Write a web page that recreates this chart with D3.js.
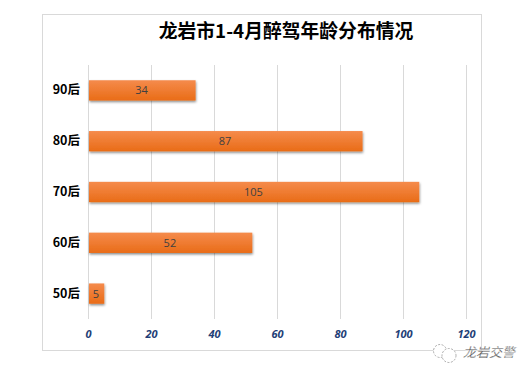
<!DOCTYPE html>
<html>
<head>
<meta charset="utf-8">
<script src="https://cdn.jsdelivr.net/npm/d3@7"></script>
<style>
    html, body { margin: 0; padding: 0; background: #fff; }
    svg { display: block; }
</style>
</head>
<body>
<svg id="chart" width="531" height="378"></svg>
<script>
const categories = ['90后', '80后', '70后', '60后', '50后'];
const values = [34, 87, 105, 52, 5];
const xTicks = [0, 20, 40, 60, 80, 100, 120];

const cjk = '"Noto Sans CJK SC", sans-serif';
const latin = '"Open Sans", "Noto Sans", sans-serif';

const svg = d3.select('#chart');

const defs = svg.append('defs');
const grad = defs.append('linearGradient')
    .attr('id', 'barFill')
    .attr('x1', 0).attr('y1', 0).attr('x2', 0).attr('y2', 1);
grad.append('stop').attr('offset', '0%').attr('stop-color', '#f58b4c');
grad.append('stop').attr('offset', '100%').attr('stop-color', '#e96c17');

const shadow = defs.append('filter')
    .attr('id', 'barShadow')
    .attr('x', '-10%').attr('y', '-20%').attr('width', '130%').attr('height', '160%');
shadow.append('feDropShadow')
    .attr('dx', 0.5).attr('dy', 1.5).attr('stdDeviation', 1.2)
    .attr('flood-color', '#000').attr('flood-opacity', 0.45);

// chart frame
svg.append('rect')
    .attr('x', 42.5).attr('y', 14.5)
    .attr('width', 439).attr('height', 336)
    .attr('fill', '#fff')
    .attr('stroke', '#d9d9d9');

const x = d3.scaleLinear().domain([0, 120]).range([88.5, 466.5]);
const y = d3.scaleBand().domain(categories).range([65, 319]).paddingInner(0.6).paddingOuter(0.3);

// grid lines
svg.append('g').selectAll('line')
    .data(xTicks)
    .join('line')
        .attr('x1', d => x(d)).attr('x2', d => x(d))
        .attr('y1', 65).attr('y2', 319)
        .attr('stroke', '#d9d9d9');

// bars
const bars = svg.append('g');
bars.selectAll('rect')
    .data(values)
    .join('rect')
        .attr('x', x(0) + 0.5)
        .attr('y', (d, i) => y(categories[i]))
        .attr('width', d => x(d) - x(0) - 0.5)
        .attr('height', y.bandwidth())
        .attr('fill', 'url(#barFill)')
        .attr('filter', 'url(#barShadow)');

// value labels
svg.append('g').selectAll('text')
    .data(values)
    .join('text')
        .attr('x', d => x(0) + (x(d) - x(0)) / 2 - 0.5)
        .attr('y', (d, i) => y(categories[i]) + y.bandwidth() / 2 + 4)
        .attr('text-anchor', 'middle')
        .attr('font-family', latin)
        .attr('font-size', 11)
        .attr('fill', '#404040')
        .text(d => d);

// category labels
svg.append('g').selectAll('text')
    .data(categories)
    .join('text')
        .attr('x', 80)
        .attr('y', d => y(d) + y.bandwidth() / 2 + 4)
        .attr('text-anchor', 'end')
        .attr('font-family', cjk)
        .attr('font-size', 12.5)
        .attr('font-weight', 700)
        .attr('fill', '#000')
        .text(d => d);

// x axis labels
svg.append('g').selectAll('text')
    .data(xTicks)
    .join('text')
        .attr('x', d => x(d))
        .attr('y', 338)
        .attr('text-anchor', 'middle')
        .attr('font-family', latin)
        .attr('font-size', 11)
        .attr('font-style', 'italic')
        .attr('font-weight', 700)
        .attr('fill', '#1f3f77')
        .text(d => d);

// title
svg.append('text')
    .attr('x', 286)
    .attr('y', 38)
    .attr('text-anchor', 'middle')
    .attr('font-family', cjk)
    .attr('font-size', 18.8)
    .attr('font-weight', 700)
    .attr('fill', '#000')
    .text('龙岩市1-4月醉驾年龄分布情况');

// watermark
const mark = svg.append('g').attr('fill', '#fff').attr('stroke', '#aaa').attr('stroke-dasharray', '2 1.5');
mark.append('circle').attr('cx', 440).attr('cy', 351).attr('r', 6.5);
mark.append('circle').attr('cx', 449).attr('cy', 355.5).attr('r', 7);
svg.append('text')
    .attr('x', 463)
    .attr('y', 357)
    .attr('font-family', cjk)
    .attr('font-size', 13)
    .attr('font-style', 'italic')
    .attr('fill', '#555')
    .attr('stroke', '#fff')
    .attr('stroke-width', 0.2)
    .text('龙岩交警');
</script>
</body>
</html>
